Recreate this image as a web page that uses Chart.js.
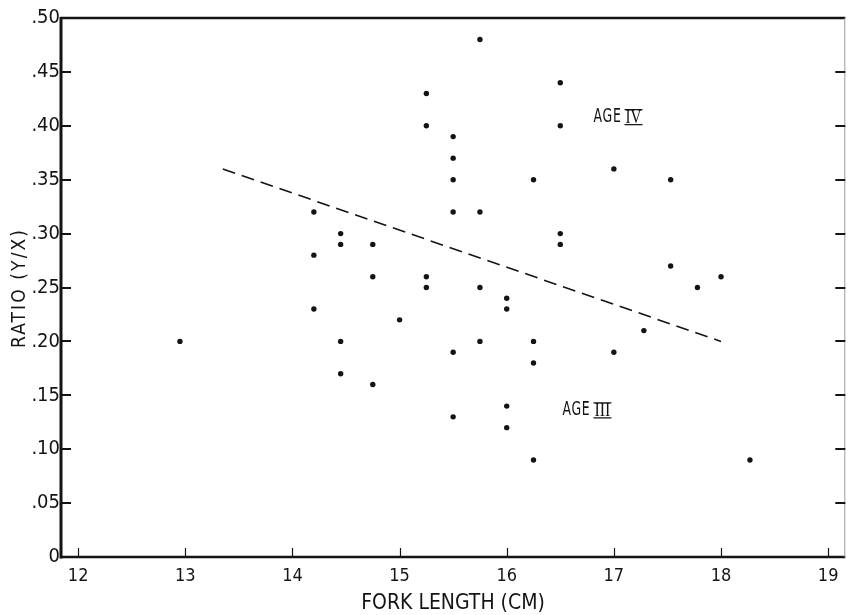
<!DOCTYPE html>
<html><head><meta charset="utf-8">
<script src="https://cdn.jsdelivr.net/npm/chart.js@4.4.1/dist/chart.umd.min.js"></script>
<style>html,body{margin:0;padding:0;background:#fff}#wrap{width:848px;height:615px}</style>
</head><body><div id="wrap"><canvas id="c" width="848" height="615"></canvas></div>
<script>
// ---- data ----
const forkLength = [12.95,
  14.2, 14.2, 14.2,
  14.45, 14.45, 14.45, 14.45,
  14.75, 14.75, 14.75,
  15.0,
  15.25, 15.25, 15.25, 15.25,
  15.5, 15.5, 15.5, 15.5, 15.5, 15.5,
  15.75, 15.75, 15.75, 15.75,
  16.0, 16.0, 16.0, 16.0,
  16.25, 16.25, 16.25, 16.25,
  16.5, 16.5, 16.5, 16.5,
  17.0, 17.0,
  17.28,
  17.53, 17.53,
  17.78,
  18.0,
  18.27];
const ratio = [0.20,
  0.32, 0.28, 0.23,
  0.30, 0.29, 0.20, 0.17,
  0.29, 0.26, 0.16,
  0.22,
  0.43, 0.40, 0.26, 0.25,
  0.39, 0.37, 0.35, 0.32, 0.19, 0.13,
  0.48, 0.32, 0.25, 0.20,
  0.24, 0.23, 0.14, 0.12,
  0.35, 0.20, 0.18, 0.09,
  0.44, 0.40, 0.30, 0.29,
  0.36, 0.19,
  0.21,
  0.35, 0.27,
  0.25,
  0.26,
  0.09];
const trendX = [13.35, 18.0];
const trendY = [0.36, 0.20];
const xTickValues = [12, 13, 14, 15, 16, 17, 18, 19];
const xTickLabels = ['12', '13', '14', '15', '16', '17', '18', '19'];
const yTickValues = [0, 0.05, 0.10, 0.15, 0.20, 0.25, 0.30, 0.35, 0.40, 0.45, 0.50];
const yTickLabels = ['0', '.05', '.10', '.15', '.20', '.25', '.30', '.35', '.40', '.45', '.50'];
const xAxisTitle = 'FORK LENGTH (CM)';
const yAxisTitle = 'RATIO (Y/X)';
const groupWords = ['AGE', 'AGE'];
const groupNumerals = ['IV', 'III'];
const groupAtX = [16.81, 16.52];
const groupAtY = [0.408, 0.136];

// ---- styling ----
const INK = '#141414';
const NARROW = "'Liberation Sans Narrow', 'DejaVu Sans Condensed', 'Roboto Condensed', 'Liberation Sans', sans-serif";
const SERIF = "'Liberation Serif', 'DejaVu Serif', serif";

const points = forkLength.map((x, i) => ({x: x, y: ratio[i]}));
const trend = trendX.map((x, i) => ({x: x, y: trendY[i]}));

function spacedText(ctx, text, cx, cy, targetWidth) {
  ctx.letterSpacing = '0px';
  const natural = ctx.measureText(text).width;
  const sp = Math.max(0, (targetWidth - natural) / (text.length - 1));
  ctx.letterSpacing = sp.toFixed(2) + 'px';
  const w = ctx.measureText(text).width - sp;
  ctx.textAlign = 'left';
  ctx.fillText(text, cx - w / 2, cy);
  ctx.letterSpacing = '0px';
}

const decor = {
  id: 'decor',
  afterDraw(chart) {
    const ctx = chart.ctx;
    const a = chart.chartArea;
    const xs = chart.scales.x, ys = chart.scales.y;
    ctx.save();
    ctx.strokeStyle = INK;
    ctx.fillStyle = INK;
    ctx.lineCap = 'butt';
    // frame
    ctx.lineWidth = 3;
    ctx.beginPath(); ctx.moveTo(a.left, a.top - 1); ctx.lineTo(a.left, a.bottom + 1.5); ctx.stroke();
    ctx.lineWidth = 2.5;
    ctx.beginPath(); ctx.moveTo(a.left - 1, a.bottom); ctx.lineTo(a.right, a.bottom); ctx.stroke();
    ctx.beginPath(); ctx.moveTo(a.left - 1, a.top); ctx.lineTo(a.right, a.top); ctx.stroke();
    ctx.strokeStyle = '#9a9a9a';
    ctx.lineWidth = 1;
    ctx.beginPath(); ctx.moveTo(a.right - 0.5, a.top); ctx.lineTo(a.right - 0.5, a.bottom); ctx.stroke();
    ctx.strokeStyle = INK;
    // y ticks (inward, both sides)
    ctx.lineWidth = 2;
    yTickValues.forEach(v => {
      const py = Math.round(ys.getPixelForValue(v));
      if (v > 0 && v < 0.5) {
        ctx.beginPath(); ctx.moveTo(a.left, py); ctx.lineTo(a.left + 10, py); ctx.stroke();
        ctx.beginPath(); ctx.moveTo(a.right, py); ctx.lineTo(a.right - 10, py); ctx.stroke();
      }
    });
    // x ticks (inward)
    ctx.lineWidth = 1.2;
    xTickValues.forEach(v => {
      const px = Math.round(xs.getPixelForValue(v)) + 0.5;
      ctx.beginPath(); ctx.moveTo(px, a.bottom); ctx.lineTo(px, a.bottom - 9); ctx.stroke();
    });
    // axis titles
    ctx.textBaseline = 'middle';
    ctx.font = '21px ' + NARROW;
    spacedText(ctx, xAxisTitle, 453, 604, 177);
    ctx.save();
    ctx.translate(20, 289);
    ctx.rotate(-Math.PI / 2);
    ctx.font = '19px ' + NARROW;
    spacedText(ctx, yAxisTitle, 0, 0, 118);
    ctx.restore();
    // group labels
    groupWords.forEach((w, i) => {
      const px = xs.getPixelForValue(groupAtX[i]);
      const py = ys.getPixelForValue(groupAtY[i]);
      ctx.textAlign = 'left';
      ctx.textBaseline = 'middle';
      ctx.font = '19px ' + NARROW;
      ctx.letterSpacing = '1px';
      const ww = ctx.measureText(w).width;
      const sx = 28 / ww;
      ctx.save();
      ctx.translate(px, py);
      ctx.scale(sx, 1);
      ctx.fillText(w, 0, 0);
      ctx.restore();
      ctx.letterSpacing = '0px';
      ctx.font = '18px ' + SERIF;
      const nw = ctx.measureText(groupNumerals[i]).width;
      const target = groupNumerals[i].length === 2 ? 16 : 16;
      const nsx = target / nw;
      const nx = px + 28 + 4;
      ctx.save();
      ctx.translate(nx, py);
      ctx.scale(nsx, 1);
      ctx.fillText(groupNumerals[i], 0, 1);
      ctx.restore();
      ctx.lineWidth = 1.3;
      ctx.beginPath();
      ctx.moveTo(nx - 1, py - 7.5); ctx.lineTo(nx + target + 1, py - 7.5);
      ctx.moveTo(nx - 1, py + 7.5); ctx.lineTo(nx + target + 1, py + 7.5);
      ctx.stroke();
    });
    ctx.restore();
  }
};

new Chart(document.getElementById('c'), {
  type: 'scatter',
  data: {
    datasets: [
      {
        data: points,
        backgroundColor: INK,
        borderWidth: 0,
        pointRadius: 2.7,
        pointHoverRadius: 2.7
      },
      {
        type: 'line',
        data: trend,
        borderColor: INK,
        borderWidth: 1.6,
        borderDash: [13, 7],
        pointRadius: 0,
        fill: false,
        tension: 0
      }
    ]
  },
  options: {
    responsive: false,
    animation: false,
    events: [],
    layout: {padding: {top: 18, right: 1, left: 0, bottom: 0}},
    plugins: {legend: {display: false}, tooltip: {enabled: false}},
    scales: {
      x: {
        type: 'linear',
        min: 11.84, max: 19.16,
        afterBuildTicks: s => { s.ticks = xTickValues.map(v => ({value: v})); },
        afterFit: s => { s.height = 58; },
        grid: {display: false, drawTicks: false},
        border: {display: false},
        ticks: {
          autoSkip: false, maxRotation: 0, padding: 9,
          color: INK,
          font: {family: NARROW, size: 18},
          callback: v => xTickLabels[xTickValues.indexOf(v)]
        }
      },
      y: {
        min: 0, max: 0.5,
        afterBuildTicks: s => { s.ticks = yTickValues.map(v => ({value: v})); },
        afterFit: s => { s.width = 61; },
        grid: {display: false, drawTicks: false},
        border: {display: false},
        ticks: {
          autoSkip: false, padding: 1,
          color: INK,
          font: {family: NARROW, size: 20},
          callback: v => yTickLabels[yTickValues.findIndex(t => Math.abs(t - v) < 1e-9)]
        }
      }
    }
  },
  plugins: [decor]
});
</script>
</body></html>
